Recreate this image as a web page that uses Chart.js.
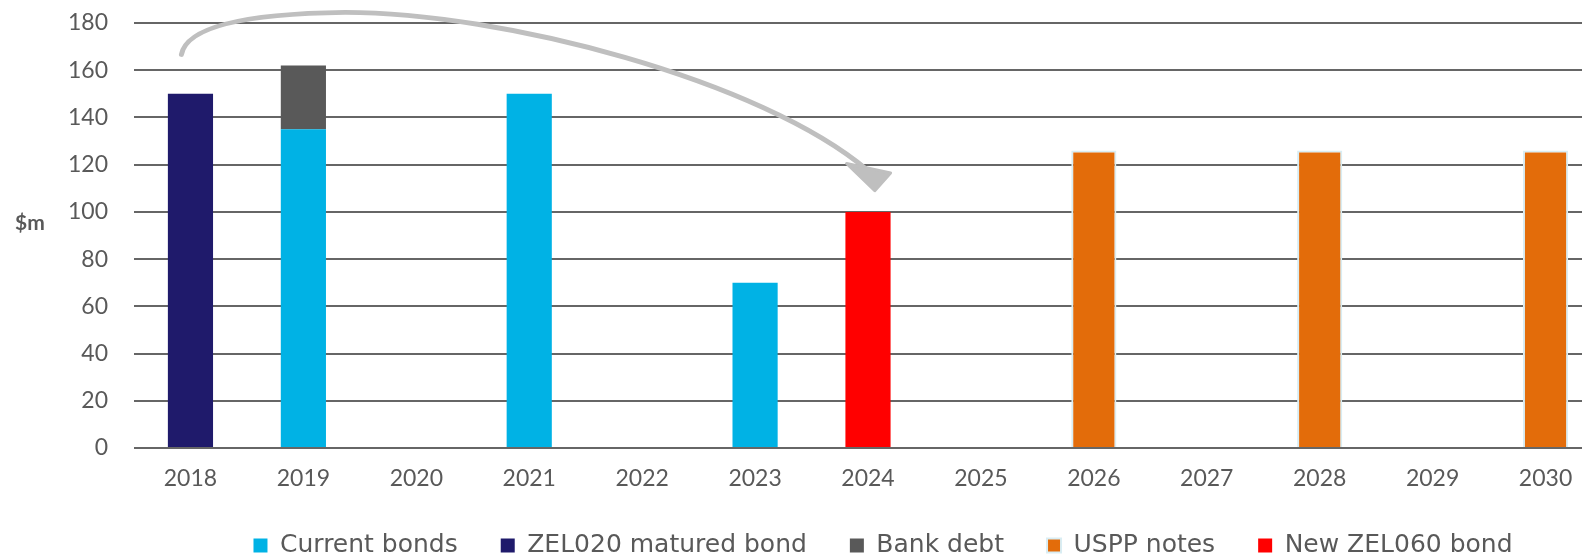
<!DOCTYPE html>
<html>
<head>
<meta charset="utf-8">
<script src="https://cdn.jsdelivr.net/npm/chart.js@4"></script>
<style>
html, body { margin: 0; padding: 0; overflow: hidden; background: #fff; }
#wrap { position: relative; width: 1602px; height: 568px; }
</style>
</head>
<body>
<div id="wrap"><canvas id="debtChart"></canvas></div>
<script>
// maturity profile, $m
const years = ["2018", "2019", "2020", "2021", "2022", "2023", "2024", "2025", "2026", "2027", "2028", "2029", "2030"];
const currentBonds = [null, 135, null, 150, null, 70, null, null, null, null, null, null, null];
const zel020Matured = [150, null, null, null, null, null, null, null, null, null, null, null, null];
const bankDebt = [null, 27, null, null, null, null, null, null, null, null, null, null, null];
const usppNotes = [null, null, null, null, null, null, null, null, 126, null, 126, null, 126];
const newZel060 = [null, null, null, null, null, null, 100, null, null, null, null, null, null];
const yTicks = [0, 20, 40, 60, 80, 100, 120, 140, 160, 180];

const textGrey = "#595959";

// "$m" label, drawn flat like the original
const unitLabel = {
    id: "unitLabel",
    afterDraw(chart) {
        const ctx = chart.ctx;
        ctx.save();
        ctx.font = "bold 21px Lato";
        ctx.fillStyle = textGrey;
        ctx.textAlign = "left";
        ctx.textBaseline = "middle";
        ctx.fillText("$m", 15, chart.scales.y.getPixelForValue(95));
        ctx.restore();
    }
};

// grey curved arrow from the 2018 bond to the new 2024 bond
const refiArrow = {
    id: "refiArrow",
    afterDatasetsDraw(chart) {
        const {ctx, scales: {x, y}} = chart;
        const x0 = x.getPixelForValue(0);
        const step = x.getPixelForValue(1) - x0;
        const p = (i, v) => [x0 + step * i, y.getPixelForValue(v)];
        ctx.save();
        ctx.strokeStyle = "#bfbfbf";
        ctx.fillStyle = "#bfbfbf";
        ctx.lineWidth = 5;
        ctx.lineCap = "round";
        ctx.lineJoin = "round";
        ctx.beginPath();
        ctx.moveTo(...p(-0.08, 166.7));
        ctx.quadraticCurveTo(...p(-0.01, 183.7), ...p(1.37, 184.5));
        ctx.bezierCurveTo(...p(2.75, 184.5), ...p(5.05, 156), ...p(6.0, 117.5));
        ctx.stroke();
        // head
        ctx.lineWidth = 3;
        ctx.beginPath();
        ctx.moveTo(...p(5.81, 120.5));
        ctx.lineTo(...p(6.2, 116.5));
        ctx.lineTo(...p(6.06, 109));
        ctx.closePath();
        ctx.fill();
        ctx.stroke();
        ctx.restore();
    }
};

// the original legend sits a bit right of centre
const legendShift = {
    id: "legendShift",
    afterLayout(chart) {
        chart.legend.left += 82;
        chart.legend.right += 82;
    }
};

new Chart(document.getElementById("debtChart"), {
    type: "bar",
    data: {
        labels: years,
        datasets: [
            { label: "Current bonds", data: currentBonds, backgroundColor: "#00b2e5" },
            { label: "ZEL020 matured bond", data: zel020Matured, backgroundColor: "#1f1a6b" },
            { label: "Bank debt", data: bankDebt, backgroundColor: "#595959" },
            { label: "USPP notes", data: usppNotes, backgroundColor: "#e36c0a", borderColor: "#d9edf3", borderWidth: 2 },
            { label: "New ZEL060 bond", data: newZel060, backgroundColor: "#ff0000" }
        ]
    },
    options: {
        responsive: true,
        maintainAspectRatio: false,
        animation: false,
        layout: { padding: { top: 23, left: 0, right: 0, bottom: 0 } },
        datasets: {
            bar: { categoryPercentage: 1, barPercentage: 0.4 }
        },
        plugins: {
            legend: {
                position: "bottom",
                labels: {
                    boxWidth: 14,
                    boxHeight: 14,
                    padding: 43,
                    color: textGrey,
                    font: { family: "DejaVu Sans", size: 25 }
                }
            },
            tooltip: { enabled: false }
        },
        scales: {
            x: {
                stacked: true,
                grid: { display: false, drawTicks: false },
                border: { display: false },
                afterFit(scale) {
                    scale.height = 42;
                },
                ticks: {
                    color: textGrey,
                    padding: 19,
                    font: { family: "Lato", size: 23, lineHeight: 1 }
                }
            },
            y: {
                stacked: true,
                min: 0,
                max: 180,
                afterBuildTicks(scale) {
                    scale.ticks = yTicks.map(v => ({ value: v }));
                },
                afterFit(scale) {
                    scale.width = 134;
                },
                grid: {
                    color: "#666666",
                    lineWidth: 2,
                    drawTicks: true,
                    tickLength: 26,
                    tickColor: "rgba(0,0,0,0)"
                },
                border: { display: false },
                ticks: {
                    color: textGrey,
                    padding: 0,
                    font: { family: "Lato", size: 23 }
                }
            }
        }
    },
    plugins: [unitLabel, refiArrow, legendShift]
});
</script>
</body>
</html>
